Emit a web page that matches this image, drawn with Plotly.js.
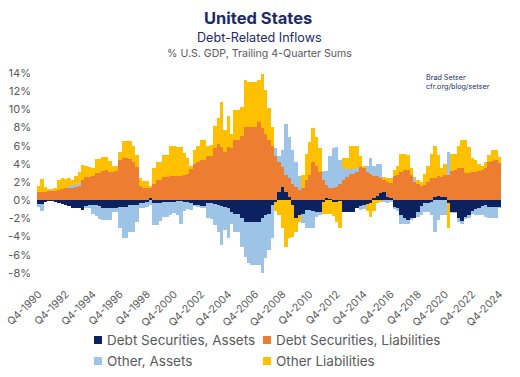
<!DOCTYPE html>
<html><head><meta charset="utf-8">
<script src="https://cdn.plot.ly/plotly-3.0.1.min.js"></script>
<style>html,body{margin:0;padding:0;background:#fff}#c{width:520px;height:377px}</style>
</head><body><div id="c"></div>
<script>
// Quarter categories Q4-1990 ... Q4-2024
const quarters = ['Q4-1990'];
for (let y = 1991; y <= 2024; y++) { for (let q = 1; q <= 4; q++) quarters.push('Q' + q + '-' + y); }

const tickLabels = ['Q4-1990','Q4-1992','Q4-1994','Q4-1996','Q4-1998','Q4-2000','Q4-2002','Q4-2004','Q4-2006',
  'Q4-2008','Q4-2010','Q4-2012','Q4-2014','Q4-2016','Q4-2018','Q4-2020','Q4-2022','Q4-2024'];
const yTickVals = [-8,-6,-4,-2,0,2,4,6,8,10,12,14];
const yTickText = ['-8%','-6%','-4%','-2%','0%','2%','4%','6%','8%','10%','12%','14%'];

const debtSecAssets = [
 -0.4,-0.4,-0.2,-0.1,-0.1,-0.2,-0.3,-0.4,-0.5,-0.6,-0.8,-0.9,-0.9,-1.1,
 -0.6,-0.5,-0.5,-0.5,-0.6,-0.8,-0.9,-0.9,-0.9,-0.9,-0.7,-0.7,-0.7,-0.5,-0.5,-0.5,
 -0.3,-0.3,-0.2,0.2,-0.3,-0.3,-0.3,-0.2,-0.2,-0.2,-0.2,-0.1,-0.1,-0.2,-0.2,-0.3,-0.5,-0.5,
 -0.6,-0.6,-0.3,-0.3,-0.4,-0.5,-0.6,-0.7,-0.9,-1.3,-1.5,-1.5,-2.0,-2.4,
 -2.4,-2.4,-2.4,-2.4,-2.0,-1.6,-1.5,-0.5,-0.2,0.9,1.5,0.9,0.4,-0.5,-2.0,
 -1.6,-1.5,-1.1,-1.1,-1.2,-1.3,-1.3,-0.2,0.2,0.1,-0.2,-0.2,-0.1,-1.3,-1.3,-1.3,-1.3,-0.9,
 -0.6,-0.5,-0.4,-0.3,0.3,0.5,0.8,0.9,0.4,0.2,-0.7,-0.9,
 -1.6,-2.0,-2.2,-2.0,-2.0,-1.3,-0.6,-0.3,-0.3,-0.2,
 0.4,0.5,0.4,0.4,-0.3,-1.3,-1.3,-2.0,-2.3,-1.8,
 -1.6,-1.2,-1.0,-0.9,-0.6,-0.5,-0.7,-0.7,-0.7,-0.7];

const debtSecLiab = [
 0.9,0.9,0.9,1.0,1.0,1.0,1.1,1.2,1.3,1.3,1.4,1.5,1.6,2.2,
 2.6,2.6,2.7,3.0,3.0,3.2,3.3,3.1,3.1,3.2,4.4,4.6,4.6,4.5,4.2,3.7,
 1.6,1.3,1.3,1.1,1.8,2.2,2.2,2.6,2.6,2.7,2.7,2.7,2.7,2.8,2.9,3.4,4.0,4.2,
 4.4,4.4,4.9,4.9,5.7,6.2,5.9,5.3,5.9,5.7,6.6,6.6,7.1,8.1,
 8.1,8.1,8.1,8.6,7.9,7.3,6.6,6.0,4.9,3.3,2.2,1.9,2.0,1.8,1.5,
 1.1,1.3,2.2,2.8,4.2,3.8,3.1,2.2,1.5,1.3,1.3,1.5,1.8,2.2,2.6,2.9,2.9,3.1,
 3.7,3.5,3.1,2.9,2.4,2.2,1.6,1.3,1.6,1.7,2.7,2.8,
 3.1,3.3,3.3,2.8,2.0,1.8,1.6,1.7,2.0,2.4,
 2.0,2.2,2.2,2.4,2.8,3.2,3.3,3.6,3.6,3.0,
 3.0,3.1,3.1,3.2,3.3,3.6,4.2,4.3,4.4,4.1];

const otherAssets = [
 -0.3,-0.8,0,0,0,0,0,0,0,0.3,0.3,0.2,0.3,0,
 -0.3,-0.4,-1.0,-1.2,-1.5,-1.4,-1.3,-1.3,-0.4,-0.4,-2.4,-3.5,-3.5,-3.0,-3.0,-1.9,
 -0.6,-0.6,-0.5,-0.5,-2.4,-2.4,-2.0,-1.6,-1.6,-1.4,-1.2,-1.5,-2.5,-1.0,-0.8,-0.8,-0.1,-0.2,
 -0.3,-0.3,-1.7,-1.8,-2.3,-3.0,-4.3,-2.6,-3.3,-1.3,-2.0,-2.0,-3.1,-3.8,
 -4.5,-4.7,-4.7,-4.7,-6.0,-4.8,-4.0,-3.7,0.8,0.7,1.8,5.6,4.6,3.7,2.7,
 1.6,-1.0,-2.0,-2.0,-1.9,-0.5,-0.3,1.0,1.5,3.5,4.4,4.4,2.6,1.3,0.8,0.5,0.5,0.5,
 -0.5,-0.5,0.7,1.7,1.1,1.3,1.6,-0.2,-0.3,-0.2,-0.3,-0.3,
 -1.0,-0.6,-0.4,-0.2,0.4,-0.5,-1.0,-1.0,-1.0,-1.4,
 -3.5,-2.2,-1.6,-1.6,2.5,-0.1,-0.1,-0.4,-0.3,-0.3,
 -0.3,-0.3,-0.6,-0.7,-1.0,-1.3,-1.3,-1.3,-1.3,-0.2];

const otherLiab = [
 0.7,1.4,0.6,0.2,0.2,0.3,1.1,1.2,1.0,0.8,0.5,1.0,1.2,1.7,
 1.2,1.1,0.8,1.5,1.5,1.6,1.5,1.2,0.7,0.6,0.9,1.9,1.9,2.0,1.8,1.3,
 0.8,0.8,0.8,0.3,1.7,2.0,2.0,2.4,2.4,3.3,3.3,3.2,3.2,2.4,1.7,0.4,1.5,1.8,
 2.2,2.2,1.1,1.2,2.5,2.8,4.9,2.4,3.4,1.6,3.3,3.3,3.2,5.1,
 4.9,4.9,4.9,4.6,6.0,4.8,3.5,2.1,-1.0,-1.6,-3.1,-5.1,-4.2,-3.5,-1.5,
 -0.8,1.5,2.9,3.6,3.7,3.2,2.6,-1.3,-1.5,-1.5,-1.5,-2.2,-3.0,1.1,1.2,2.6,2.6,2.4,
 1.2,0.3,-0.8,-1.5,-1.2,-0.3,-0.2,0.4,0.5,0.6,0.6,1.0,
 2.0,1.8,1.7,0.7,0.2,0.4,0.4,1.2,1.8,2.7,
 3.6,2.3,0.9,1.2,-2.7,1.9,1.8,2.4,3.0,3.6,
 2.9,1.5,1.3,0.8,0.5,0.6,0.8,1.2,1.1,0.7];

const seriesNames = ['Debt Securities, Assets','Debt Securities, Liabilities','Other, Assets','Other Liabilities'];
const seriesColors = ['#0b2160','#ed7d31','#9dc3e6','#ffc000'];
const seriesData = [debtSecAssets, debtSecLiab, otherAssets, otherLiab];

const FONT = 'Inter, Lato, "Noto Sans", sans-serif';
const NAVY = '#1b2a6b', GREY = '#595959';
const traces = seriesData.map((d, k) => ({
  type: 'bar', x: quarters, y: d, name: seriesNames[k],
  marker: {color: seriesColors[k], line: {width: 0}}
}));

const W = 520, H = 377, L = 37, R = 19, T = 70, B = 101;
const plotW = W - L - R, plotH = H - T - B;
const px = x => (x - L) / plotW;
const py = y => (H - B - y) / plotH;

// custom legend (2 x 2), positions in pixels
const legendPos = [[94, 340], [263, 340], [94, 361], [263, 361]];
const shapes = legendPos.map((p, k) => ({
  type: 'rect', xref: 'paper', yref: 'paper',
  x0: px(p[0]), x1: px(p[0] + 8), y0: py(p[1] + 4), y1: py(p[1] - 4),
  fillcolor: seriesColors[k], line: {width: 0}
}));
const legendText = legendPos.map((p, k) => ({
  text: seriesNames[k], xref: 'paper', yref: 'paper', x: px(p[0] + 11), y: py(p[1]),
  xanchor: 'left', yanchor: 'middle', showarrow: false,
  font: {size: 13.5, color: GREY, family: FONT}
}));

const layout = {
  width: W, height: H,
  margin: {l: L, r: R, t: T, b: B, pad: 0},
  paper_bgcolor: '#fff', plot_bgcolor: '#fff',
  barmode: 'relative', bargap: 0,
  font: {family: FONT, color: GREY, size: 11},
  showlegend: false,
  xaxis: {type: 'category', tickvals: tickLabels, ticktext: tickLabels, tickangle: -45,
    showgrid: false, showline: false, zeroline: false, ticks: '', ticklabelstandoff: 9,
    tickfont: {size: 10.5, color: GREY}},
  yaxis: {range: [-8.33, 14.33], tickvals: yTickVals, ticktext: yTickText,
    showgrid: false, zeroline: false, showline: false, ticks: '', ticklabelstandoff: 5,
    tickfont: {size: 11, color: GREY}},
  shapes: shapes,
  annotations: [
    {text: '<b>United States</b>', x: px(258), y: py(17.5), xref: 'paper', yref: 'paper',
      showarrow: false, xanchor: 'center', yanchor: 'middle', font: {size: 16.5, color: NAVY, family: FONT}},
    {text: 'Debt-Related Inflows', x: px(259), y: py(37), xref: 'paper', yref: 'paper',
      showarrow: false, xanchor: 'center', yanchor: 'middle', font: {size: 12.6, color: NAVY, family: FONT}},
    {text: '% U.S. GDP, Trailing 4-Quarter Sums', x: px(259), y: py(53), xref: 'paper', yref: 'paper',
      showarrow: false, xanchor: 'center', yanchor: 'middle', font: {size: 10.6, color: GREY, family: FONT}},
    {text: 'Brad Setser<br>cfr.org/blog/setser', x: px(424), y: py(71), xref: 'paper', yref: 'paper',
      showarrow: false, xanchor: 'left', yanchor: 'top', align: 'left',
      font: {size: 7.2, color: NAVY, family: FONT}}
  ].concat(legendText)
};

Plotly.newPlot('c', traces, layout, {displayModeBar: false, staticPlot: true});
</script></body></html>
